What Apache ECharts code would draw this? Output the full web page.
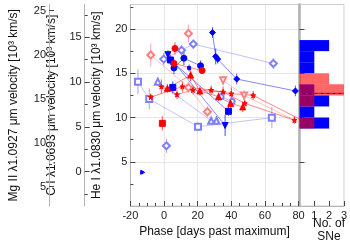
<!DOCTYPE html>
<html><head><meta charset="utf-8">
<script src="https://cdn.jsdelivr.net/npm/echarts@6/dist/echarts.min.js"></script>
<style>html,body{margin:0;padding:0;background:#fff}#c{width:350px;height:244px}</style>
</head><body><div id="c"></div>
<script>
// ---- data: [phase (days), He I velocity (10^3 km/s), error] ----
const bTop     = [[28.8,19.6,0.6],[30.7,16.9,0.9],[31.9,16.6,0.5],[43.2,14.35,0.6],[78.1,13.0,0.6]];
const bTriDown = [[2.3,17.1,0.5],[36.3,9.1,1.2]];
const bSquare  = [[3.8,16.5,0.6],[38.3,10.7,0.5]];
const bSquare2 = [[5.2,13.4,0.7]];
const bCircle  = [[5.9,15.6,0.7],[11.8,16.7,0.8],[21.7,15.85,0.6]];
const bSmall   = [[14.9,15.6,0.4]];
const bRight   = [[-12.7,3.8,0.2]];
const lbSquare = [[-15.5,14.05,1.4],[-8.8,12.1,1.2],[20.2,8.96,0.5],[64.1,9.98,1.2]];
const lbDiamond= [[-0.2,16.6,0.7],[10.4,17.6,0.6],[17.4,18.3,0.5],[65.0,16.1,0.6]];
const lbTri    = [[-3.7,14.05,0.5],[28.0,9.64,0.5],[31.2,9.64,0.5]];
const lbCircle = [[33.9,12.35,0.5],[40.5,11.8,0.6]];
const lbSingle = [[1.4,6.8,0.8]];
const rStar1   = [[-7.9,12.3,0.4],[10.9,13.5,0.6],[28.0,13.1,0.5],[40.0,12.7,0.7],[53.0,12.5,0.5],[85.0,9.4,0.4]];
const rStar2   = [[-1.6,13.5,0.8],[7.7,12.6,0.5],[17.2,13.1,0.5],[35.1,12.9,0.6],[48.0,11.6,0.4],[77.5,9.7,0.4]];
const rTri     = [[2.0,13.3,0.5],[15.8,14.8,0.7],[21.3,13.0,0.5],[32.4,12.35,0.5],[39.6,11.6,0.6],[46.8,11.2,0.6]];
const rCircle  = [[5.9,16.1,0.5],[22.6,15.3,0.4]];
const rCircle2 = [[6.5,17.8,0.7]];
const rSquare  = [[-1.0,9.34,0.8]];
const lrDiamond= [[-7.9,17.06,1.3],[14.5,13.4,0.6],[25.8,10.65,0.6]];
const lrDiamond2=[[14.5,19.5,1.0]];
const lrTriDown= [[35.1,14.2,0.5],[47.6,12.5,0.6],[85.0,9.0,0.5]];

// histogram of He I velocities
const binEdges   = [8.75,10,11.25,12.5,13.75,15,16.25,17.5,18.75];
const blueCounts = [2,1,2,1,0,1,1,2];
const redCounts  = [1,0,1,3,2,0,0,0];
const medianVel  = 12.73;

// axes
const heRange = [0, 22.77], cRange = [-3.83, 18.66], mgRange = [2.81, 25.7];
const heTicks = [5,10,15,20], heMinor = [2.5,7.5,12.5,17.5,22.5];
const cTicks = [0,5,10,15], cMinor = [-2.5,2.5,7.5,12.5,17.5];
const mgTicks = [5,10,15,20,25], mgMinor = [7.5,12.5,17.5,22.5];
const xTicks = [-20,0,20,40,60,80];

const BLUE='#0000ff', LBLUE='#8080ff', RED='#ff0000', LRED='#ff8080';
const FONT='Liberation Sans';
const star='path://M50,0 L61,35 L98,35 L68,57 L79,91 L50,70 L21,91 L32,57 L2,35 L39,35 Z';

function track(d, color, symbol, size, extra){
  return Object.assign({type:'line', xAxisIndex:0, yAxisIndex:0, data:d.map(p=>[p[0],p[1]]),
    symbol:symbol, symbolSize:size||5, clip:true, z:5, animation:false,
    itemStyle:{color:color, borderColor:color, borderWidth:1},
    lineStyle:{color:color, width:0.8, opacity:0.6}}, extra||{});
}
function errBars(list, color){
  const d=[]; list.forEach(t=>t.forEach(p=>d.push(p)));
  return {type:'custom', xAxisIndex:0, yAxisIndex:0, data:d, encode:{x:0,y:1}, clip:true, z:3, animation:false,
    renderItem:(params,api)=>{const x=api.value(0),y=api.value(1),e=api.value(2);
      const a=api.coord([x,y-e]), b=api.coord([x,y+e]);
      return {type:'line', shape:{x1:a[0],y1:a[1],x2:b[0],y2:b[1]}, style:{stroke:color, lineWidth:1, opacity:0.7}};}};
}
function hist(counts, fill, opacity){
  const d=counts.map((c,i)=>[binEdges[i],binEdges[i+1],c]).filter(r=>r[2]>0);
  return {type:'custom', xAxisIndex:1, yAxisIndex:6, data:d, encode:{x:2,y:[0,1]}, z:2, animation:false,
    renderItem:(params,api)=>{const p0=api.coord([0,api.value(1)]), p1=api.coord([api.value(2),api.value(0)]);
      return {type:'rect', shape:{x:p0[0],y:p0[1],width:p1[0]-p0[0],height:p1[1]-p0[1]}, style:{fill:fill, opacity:opacity}};}};
}
function yAx(range, offset, ticks, labels, len, name, gap, grid){
  return {type:'value', gridIndex:grid||0, position:'left', offset:offset, min:range[0], max:range[1],
    axisLine:{show:!!labels, onZero:false, lineStyle:{color:'#b4b4b4', width:1}},
    axisTick:{show:true, inside:true, length:len, customValues:ticks, lineStyle:{color:'#444'}},
    axisLabel:{show:!!labels, customValues:ticks, fontFamily:FONT, fontSize:11, color:'#222', margin:3},
    splitLine:{show:false},
    name:name||'', nameLocation:'middle', nameRotate:90, nameGap:gap||0,
    nameTextStyle:{fontFamily:FONT, fontSize:12, color:'#111'}};
}

const chart = echarts.init(document.getElementById('c'), null, {renderer:'canvas'});
const heName = 'He I \u03bb1.0830 \u03bcm velocity [10\u00b3 km/s]';
const cName  = 'C I \u03bb1.0693 \u03bcm velocity [10\u00b3 km/s]';
const mgName = 'Mg II \u03bb1.0927 \u03bcm velocity [10\u00b3 km/s]';

const yAxes = [
  Object.assign(yAx(heRange, 0, heTicks, true, 5, heName, 28), {splitLine:{show:true, lineStyle:{color:'#e6e6e6'}}, interval:5}),
  yAx(heRange, 0, heMinor, false, 3),
  yAx(cRange, 45.7, cTicks, true, 5, cName, 27),
  yAx(cRange, 45.7, cMinor, false, 3),
  yAx(mgRange, 81.4, mgTicks, true, 5, mgName, 29),
  yAx(mgRange, 81.4, mgMinor, false, 3),
  {type:'value', gridIndex:1, min:heRange[0], max:heRange[1], interval:5,
    axisLine:{show:true, onZero:false, lineStyle:{color:'#b0b0b0', width:2.5}},
    axisTick:{show:true, inside:true, length:5, customValues:heTicks, lineStyle:{color:'#444'}},
    axisLabel:{show:false}, splitLine:{show:false}}
];

chart.setOption({
  animation:false,
  textStyle:{fontFamily:FONT},
  grid:[
    {left:112.4, top:4.5, width:186.2, height:201.5, show:true, borderColor:'#d0d0d0', borderWidth:1},
    {left:299.5, top:4.5, width:46, height:201.5, show:true, borderColor:'#d0d0d0', borderWidth:1}
  ],
  xAxis:[
    {type:'value', gridIndex:0, min:-20, max:80, interval:20,
      axisLine:{onZero:false, lineStyle:{color:'#b4b4b4'}},
      axisTick:{inside:true, length:5, lineStyle:{color:'#444'}},
      minorTick:{show:true, splitNumber:4, length:3, lineStyle:{color:'#444'}},
      splitLine:{show:true, lineStyle:{color:'#e6e6e6'}},
      axisLabel:{customValues:xTicks, fontFamily:FONT, fontSize:11, color:'#222', margin:4},
      name:'Phase [days past maximum]', nameLocation:'middle', nameGap:11,
      nameTextStyle:{fontFamily:FONT, fontSize:12, color:'#111', verticalAlign:'top'}},
    {type:'value', gridIndex:1, min:0, max:3, interval:1,
      axisLine:{onZero:false, lineStyle:{color:'#b4b4b4'}},
      axisTick:{inside:true, length:5, customValues:[1,2,3], lineStyle:{color:'#444'}},
      splitLine:{show:false},
      axisLabel:{customValues:[1,2,3], fontFamily:FONT, fontSize:11, color:'#222', margin:4}}
  ],
  yAxis:yAxes,
  graphic:[{type:'text', x:329, y:217, style:{text:'No. of\nSNe', fontFamily:FONT, fontSize:12, fill:'#111', align:'center', verticalAlign:'top', lineHeight:13}}],
  series:[
    errBars([lbSquare,lbDiamond,lbTri,lbCircle,lbSingle], LBLUE),
    errBars([bTop,bTriDown,bSquare,bSquare2,bCircle,bSmall,bRight], BLUE),
    errBars([lrDiamond,lrDiamond2,lrTriDown], LRED),
    errBars([rStar1,rStar2,rTri,rCircle,rCircle2,rSquare], RED),
    track(lbSquare, LBLUE, 'emptyRect', 6),
    track(lbDiamond, LBLUE, 'emptyDiamond', 7),
    track(lbTri, LBLUE, 'emptyTriangle', 6),
    track(lbCircle, LBLUE, 'emptyCircle', 5),
    track(lbSingle, LBLUE, 'emptyDiamond', 7),
    track(bTop, BLUE, 'diamond', 6),
    track(bTriDown, BLUE, 'triangle', 6, {symbolRotate:180}),
    track(bSquare, BLUE, 'rect', 6),
    track(bSquare2, BLUE, 'rect', 6),
    track(bCircle, BLUE, 'circle', 6),
    track(bSmall, BLUE, 'rect', 3),
    track(bRight, BLUE, 'triangle', 4, {symbolRotate:-90}),
    track(lrDiamond, LRED, 'emptyDiamond', 7),
    track(lrDiamond2, LRED, 'emptyDiamond', 7),
    track(lrTriDown, LRED, 'emptyTriangle', 6, {symbolRotate:180}),
    track(rStar1, RED, star, 5),
    track(rStar2, RED, star, 5),
    track(rTri, RED, 'triangle', 6),
    track(rCircle, RED, 'circle', 6),
    track(rCircle2, RED, 'circle', 6),
    track(rSquare, RED, 'rect', 6),
    hist(blueCounts, BLUE, 1),
    hist(redCounts, RED, 0.6),
    {type:'line', xAxisIndex:1, yAxisIndex:6, data:[[0,medianVel],[3,medianVel]], symbol:'none', z:4,
      lineStyle:{color:RED, width:1, type:[3,3]}},
    {type:'line', xAxisIndex:1, yAxisIndex:6, data:[[0,medianVel],[3,medianVel]], symbol:'none', z:4,
      lineStyle:{color:BLUE, width:1, type:[3,3], dashOffset:3}}
  ]
});
</script></body></html>
